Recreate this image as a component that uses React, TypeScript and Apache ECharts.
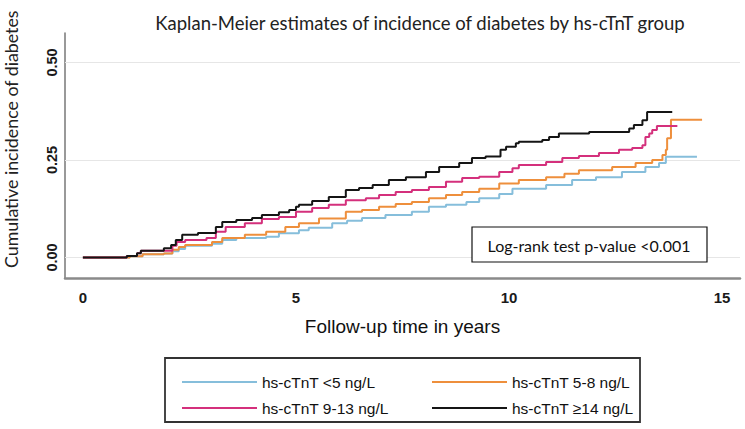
import React, { useEffect, useRef } from "react";
import * as echarts from "echarts";

// ---- data (time in years, cumulative incidence) ----
const GROUP_NAMES = ["hs-cTnT <5 ng/L", "hs-cTnT 5-8 ng/L", "hs-cTnT 9-13 ng/L", "hs-cTnT \u226514 ng/L"];
const GROUP_COLORS = ["#86bedb", "#ee8f3c", "#d4307c", "#151515"];

const KM_LT5: [number, number][] = [
  [0, 0], [1.1, 0.003], [1.4, 0.008], [1.9, 0.01], [2.1, 0.016], [2.25, 0.022], [2.4, 0.03], [3.03, 0.035],
  [3.27, 0.045], [3.6, 0.05], [4.3, 0.053], [4.6, 0.062], [5.07, 0.07], [5.3, 0.076], [5.85, 0.088],
  [6.2, 0.094], [6.55, 0.101], [7.1, 0.109], [7.72, 0.117], [8.12, 0.13], [8.52, 0.135], [9.0, 0.142],
  [9.3, 0.152], [9.77, 0.163], [10.08, 0.176], [10.87, 0.186], [11.48, 0.199], [12.04, 0.206],
  [12.65, 0.219], [13.2, 0.232], [13.52, 0.242], [13.68, 0.258], [14.41, 0.258],
];
const KM_5_8: [number, number][] = [
  [0, 0], [1.1, 0.003], [1.4, 0.008], [1.9, 0.01], [2.1, 0.02], [2.25, 0.027], [2.4, 0.032], [3.03, 0.04],
  [3.27, 0.05], [3.8, 0.058], [4.3, 0.066], [4.75, 0.078], [5.07, 0.088], [5.54, 0.1], [6.17, 0.117],
  [6.55, 0.122], [6.95, 0.13], [7.34, 0.137], [7.72, 0.142], [8.12, 0.152], [8.52, 0.16], [8.9, 0.168],
  [9.3, 0.176], [9.77, 0.19], [10.23, 0.199], [10.87, 0.206], [11.3, 0.215], [11.64, 0.224], [12.42, 0.232],
  [12.97, 0.242], [13.36, 0.25], [13.6, 0.263], [13.68, 0.276], [13.71, 0.306], [13.8, 0.353], [14.53, 0.353],
];
const KM_9_13: [number, number][] = [
  [0, 0], [1.03, 0.004], [1.27, 0.011], [1.36, 0.017], [2.1, 0.03], [2.2, 0.04], [2.4, 0.045], [2.9, 0.05],
  [3.12, 0.066], [3.35, 0.078], [3.8, 0.088], [4.2, 0.099], [4.6, 0.104], [5.0, 0.117], [5.38, 0.127],
  [5.77, 0.135], [6.17, 0.147], [6.64, 0.152], [6.95, 0.16], [7.34, 0.168], [7.72, 0.173], [8.12, 0.181],
  [8.52, 0.194], [8.9, 0.204], [9.3, 0.207], [9.77, 0.219], [10.08, 0.229], [10.23, 0.237], [10.87, 0.245],
  [11.25, 0.255], [11.64, 0.26], [12.11, 0.268], [12.58, 0.276], [12.89, 0.281], [13.13, 0.288],
  [13.2, 0.309], [13.29, 0.318], [13.36, 0.327], [13.47, 0.337], [13.95, 0.337],
];
const KM_GE14: [number, number][] = [
  [0, 0], [1.03, 0.004], [1.27, 0.011], [1.36, 0.017], [1.9, 0.024], [2.07, 0.032], [2.18, 0.045],
  [2.33, 0.058], [2.7, 0.063], [3.12, 0.078], [3.27, 0.091], [3.6, 0.096], [3.97, 0.101], [4.2, 0.109],
  [4.6, 0.116], [4.84, 0.122], [5.0, 0.13], [5.07, 0.135], [5.38, 0.145], [5.77, 0.155], [6.17, 0.173],
  [6.48, 0.178], [6.8, 0.186], [7.18, 0.199], [7.58, 0.206], [8.05, 0.219], [8.36, 0.232], [8.83, 0.242],
  [9.13, 0.255], [9.45, 0.259], [9.8, 0.276], [9.93, 0.284], [10.16, 0.293], [10.23, 0.297], [10.78, 0.301],
  [10.94, 0.309], [11.17, 0.318], [11.88, 0.322], [12.82, 0.331], [12.93, 0.34], [13.13, 0.352],
  [13.24, 0.373], [13.83, 0.373],
];
const SERIES_DATA = [KM_LT5, KM_5_8, KM_9_13, KM_GE14];

const X_TICKS = [0, 5, 10, 15];
const Y_TICKS = [0, 0.25, 0.5];

const TITLE = "Kaplan-Meier estimates of incidence of diabetes by hs-cTnT group";
const X_TITLE = "Follow-up time in years";
const Y_TITLE = "Cumulative incidence of diabetes";
const NOTE = "Log-rank test p-value <0.001";

export default function App() {
  const ref = useRef<HTMLDivElement>(null);
  useEffect(() => {
    if (!ref.current) return;
    const chart = echarts.init(ref.current, null, { renderer: "svg" });
    const legendText = { fontFamily: "Liberation Sans", fontSize: 15.5, color: "#111", lineHeight: 18 };
    const option: any = {
      animation: false,
      backgroundColor: "#ffffff",
      title: {
        text: TITLE,
        left: 415,
        textAlign: "center",
        top: 8,
        textStyle: { fontFamily: "Lato", fontSize: 18.5, fontWeight: "normal", color: "#222" },
      },
      grid: { left: 65, right: 5, top: 33, bottom: 151 },
      xAxis: {
        type: "value",
        min: -0.42,
        max: 15.42,
        name: X_TITLE,
        nameLocation: "middle",
        nameGap: 39,
        nameTextStyle: { fontFamily: "Liberation Sans", fontSize: 19, color: "#111" },
        axisLine: { show: true, onZero: false, lineStyle: { color: "#8a8a8a", width: 2.5 } },
        axisTick: { show: false, customValues: X_TICKS },
        axisLabel: {
          customValues: X_TICKS,
          margin: 12,
          fontFamily: "Liberation Sans",
          fontWeight: "bold",
          fontSize: 15,
          color: "#1a1a1a",
        },
        splitLine: { show: false },
      },
      yAxis: {
        type: "value",
        min: -0.0526,
        max: 0.5756,
        axisLine: { show: true, onZero: false, lineStyle: { color: "#777", width: 1.5 } },
        axisTick: { show: false, customValues: Y_TICKS },
        axisLabel: {
          customValues: Y_TICKS,
          rotate: 90,
          margin: 6,
          fontFamily: "Liberation Sans",
          fontWeight: "bold",
          fontSize: 14.5,
          color: "#1a1a1a",
          formatter: (v: number) => v.toFixed(2),
        },
        splitLine: { show: false },
      },
      legend: [
        {
          data: [GROUP_NAMES[0], GROUP_NAMES[2]],
          orient: "vertical",
          left: 177,
          top: 368,
          itemWidth: 75,
          itemHeight: 2,
          itemGap: 8,
          icon: "rect",
          textStyle: legendText,
          selectedMode: false,
        },
        {
          data: [GROUP_NAMES[1], GROUP_NAMES[3]],
          orient: "vertical",
          left: 427,
          top: 368,
          itemWidth: 75,
          itemHeight: 2,
          itemGap: 8,
          icon: "rect",
          textStyle: legendText,
          selectedMode: false,
        },
      ],
      graphic: [
        {
          type: "text",
          x: 11,
          y: 268,
          rotation: Math.PI / 2,
          style: {
            text: Y_TITLE,
            fontFamily: "Lato",
            fontSize: 17.8,
            fill: "#222",
            align: "left",
            verticalAlign: "middle",
          },
        },
        {
          type: "group",
          children: [
            {
              type: "rect",
              shape: { x: 472, y: 227, width: 235, height: 35 },
              style: { fill: "#fff", stroke: "#111", lineWidth: 1.2 },
              z: 10,
            },
            {
              type: "text",
              x: 589,
              y: 245,
              style: {
                text: NOTE,
                fontFamily: "Lato",
                fontSize: 16,
                fill: "#111",
                align: "center",
                verticalAlign: "middle",
              },
              z: 11,
            },
          ],
        },
        {
          type: "rect",
          shape: { x: 165, y: 358, width: 475, height: 64 },
          style: { fill: "none", stroke: "#333", lineWidth: 1.8 },
        },
      ],
      series: SERIES_DATA.map((d, i) => ({
        name: GROUP_NAMES[i],
        type: "line",
        data: d,
        step: "end",
        showSymbol: false,
        symbol: "none",
        z: 3 + i,
        lineStyle: { color: GROUP_COLORS[i], width: 2 },
        itemStyle: { color: GROUP_COLORS[i] },
        emphasis: { disabled: true },
        ...(i === 0
          ? {
              markLine: {
                silent: true,
                symbol: ["none", "none"],
                label: { show: false },
                lineStyle: { color: "#e6e6e6", width: 1, type: "solid" },
                emphasis: { disabled: true },
                z: 1,
                data: Y_TICKS.map((v) => ({ yAxis: v })),
              },
            }
          : {}),
      })),
    };
    chart.setOption(option);
    return () => chart.dispose();
  }, []);
  return (
    <div
      ref={ref}
      style={{ position: "absolute", left: 0, top: 0, width: 745, height: 429 }}
    />
  );
}
